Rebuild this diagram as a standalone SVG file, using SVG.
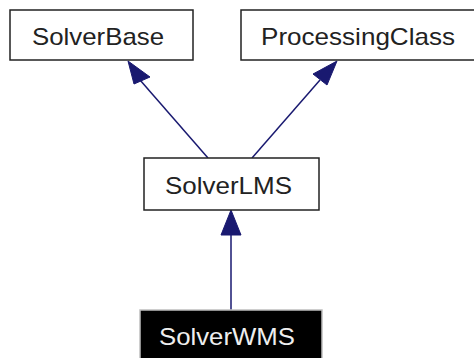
<svg xmlns="http://www.w3.org/2000/svg" width="474" height="358" viewBox="0 0 474 358">
<style>
.box{fill:#fff;stroke:#222;stroke-width:1.5}
.dark{fill:#000;stroke:#bfbfbf;stroke-width:1.5}
.lbl{font-family:"Liberation Sans",Arial,sans-serif;font-size:24px;text-anchor:middle;fill:#222}
.lblw{font-family:"Liberation Sans",Arial,sans-serif;font-size:24px;text-anchor:middle;fill:#eee}
.edge{stroke:#191970;stroke-width:1.5;fill:none}
.head{fill:#191970;stroke:#191970;stroke-width:1}
</style>
<rect width="474" height="358" fill="#fff"/>
<g id="edges">
<line class="edge" x1="208" y1="158" x2="140" y2="80"/>
<polygon class="head" points="128,61 150,77 134,84"/>
<line class="edge" x1="252" y1="158" x2="320" y2="80"/>
<polygon class="head" points="337,61 327,85 313,74"/>
<line class="edge" x1="231" y1="310" x2="231" y2="232"/>
<polygon class="head" points="231,210 241,235 221,235"/>
</g>
<g id="SolverBase">
<rect class="box" x="10" y="10" width="183" height="50"/>
<text class="lbl" x="98" y="45" textLength="132" lengthAdjust="spacingAndGlyphs">SolverBase</text>
</g>
<g id="ProcessingClass">
<rect class="box" x="241" y="10" width="240" height="50"/>
<text class="lbl" x="358" y="45" textLength="194" lengthAdjust="spacingAndGlyphs">ProcessingClass</text>
</g>
<g id="SolverLMS">
<rect class="box" x="144" y="158" width="175" height="52"/>
<text class="lbl" x="228.5" y="194" textLength="127" lengthAdjust="spacingAndGlyphs">SolverLMS</text>
</g>
<g id="SolverWMS">
<rect class="dark" x="140" y="310" width="182" height="52"/>
<text class="lblw" x="227" y="345" textLength="136" lengthAdjust="spacingAndGlyphs">SolverWMS</text>
</g>
</svg>
